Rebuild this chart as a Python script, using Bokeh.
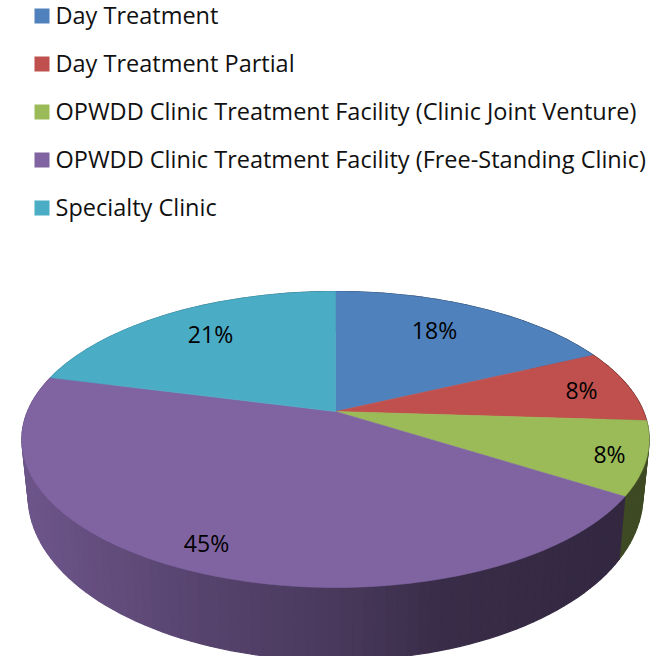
import numpy as np
from bokeh.plotting import figure
from bokeh.core.properties import value
from bokeh.embed import file_html
from bokeh.resources import INLINE

categories = ["Day Treatment", "Day Treatment Partial",
              "OPWDD Clinic Treatment Facility (Clinic Joint Venture)",
              "OPWDD Clinic Treatment Facility (Free-Standing Clinic)",
              "Specialty Clinic"]
shares = [18, 8, 8, 45, 21]
colors = ["#4F81BD", "#C0504D", "#9BBB59", "#8064A2", "#4BACC6"]
labels = ["18%", "8%", "8%", "45%", "21%"]

W, H = 652, 656
FONT = "Open Sans"
CX, CY, A, B, PERSP = 335.0, 411.0, 308.0, 142.7, 0.189


def project(theta):
    u, s = np.sin(theta), -np.cos(theta)
    w = 1 - PERSP * s
    return CX + A * u / w, CY + B * s / w


def lower(x, y):
    return CX + (x - CX) * 0.98, y + 63 + (y - 497) * 0.111


def shade(hex_color, x):
    f = np.interp(x, [30, 100, 200, 330, 440, 620], [.85, .78, .68, .58, .45, .40])
    rgb = [int(hex_color[i:i + 2], 16) for i in (1, 3, 5)]
    return "#%02x%02x%02x" % tuple(int(c * f) for c in rgb)


p = figure(width=W, height=H, x_range=(0, W), y_range=(H, 0),
           output_backend="svg", toolbar_location=None, min_border=0,
           outline_line_color=None, background_fill_color="white")
p.axis.visible = False
p.grid.visible = False

edges = np.cumsum([0] + shares) / sum(shares) * 2 * np.pi

# side wall, back to front
side_x, side_y, side_c = [], [], []
segs = []
for i, col in enumerate(colors):
    n = max(2, int((edges[i + 1] - edges[i]) / 0.03))
    th = np.linspace(edges[i], edges[i + 1], n + 1)
    for a, b in zip(th[:-1], th[1:]):
        segs.append((a, b, col))
segs.sort(key=lambda t: -np.cos((t[0] + t[1]) / 2))
for a, b, col in segs:
    x0, y0 = project(a)
    x1, y1 = project(b)
    x2, y2 = lower(x1, y1)
    x3, y3 = lower(x0, y0)
    side_x.append([x0, x1, x2, x3])
    side_y.append([y0, y1, y2, y3])
    side_c.append(shade(col, (x0 + x1) / 2))
p.patches(side_x, side_y, fill_color=side_c, line_color=side_c, line_width=1.2)

# top face
top_x, top_y = [], []
for i in range(len(shares)):
    th = np.linspace(edges[i], edges[i + 1], 160)
    x, y = project(th)
    top_x.append([CX] + list(x))
    top_y.append([CY] + list(y))
p.patches(top_x, top_y, fill_color=colors, line_color=colors, line_width=0.6)

# data labels
lab_x = [434, 581, 609, 206, 210]
lab_y = [329, 389, 453, 542, 333]
p.text(lab_x, lab_y, text=labels, text_align="center", text_baseline="middle",
       text_font=value(FONT), text_font_size="23px", text_color="#000000")

# legend
leg_y = [15.5 + 48 * i for i in range(len(categories))]
p.scatter([41.5] * len(categories), leg_y, marker="square", size=15,
          fill_color=colors, line_color=None)
p.text([55] * len(categories), [y - 1.5 for y in leg_y], text=categories,
       text_baseline="middle", text_font=value(FONT), text_font_size="23.5px",
       text_color="#111111")

open("out.html", "w").write(file_html(p, INLINE))
